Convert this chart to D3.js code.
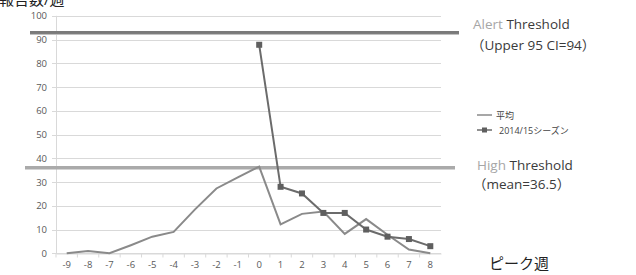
<!DOCTYPE html>
<meta charset="utf-8">
<script src="https://d3js.org/d3.v7.min.js"></script>
<style>
  body { margin: 0; background: #fff; }
  text { font-family: "Open Sans", "Noto Sans CJK JP", sans-serif; }
</style>
<div id="chart"></div>
<script>
// data
var weeks = ["-9","-8","-7","-6","-5","-4","-3","-2","-1","0","1","2","3","4","5","6","7","8"];
var meanValues = [0, 1, 0, 3.4, 7, 9, 18.5, 27.3, 32, 36.5, 12.2, 16.6, 17.6, 8.2, 14.4, 7.8, 1.6, 0];
var seasonWeeks = ["0","1","2","3","4","5","6","7","8"];
var seasonValues = [87.8, 28, 25.2, 17, 17, 10, 7, 6, 3];
var yTicks = [0, 10, 20, 30, 40, 50, 60, 70, 80, 90, 100];
var alertLevel = 93;
var highLevel = 36;

var W = 636, H = 275;
var margin = {top: 15.8, right: 195, bottom: 21.7, left: 56};

var svg = d3.select("#chart").append("svg")
  .attr("width", W)
  .attr("height", H);

var x = d3.scaleBand()
  .domain(weeks)
  .range([margin.left, W - margin.right]);

var y = d3.scaleLinear()
  .domain([0, 100])
  .range([H - margin.bottom, margin.top]);

// grid lines
svg.append("g")
  .selectAll("line")
  .data(yTicks)
  .enter().append("line")
    .attr("x1", margin.left - 4)
    .attr("x2", W - margin.right)
    .attr("y1", function(d) { return Math.round(y(d)) + 0.5; })
    .attr("y2", function(d) { return Math.round(y(d)) + 0.5; })
    .attr("stroke", "#d9d9d9")
    .attr("stroke-width", 1);

// y axis line
svg.append("line")
  .attr("x1", margin.left + 0.5).attr("x2", margin.left + 0.5)
  .attr("y1", y(100)).attr("y2", y(0))
  .attr("stroke", "#d9d9d9");

// y tick labels
svg.append("g")
  .selectAll("text")
  .data(yTicks)
  .enter().append("text")
    .attr("x", 47)
    .attr("y", function(d) { return y(d) + 3.5; })
    .attr("text-anchor", "end")
    .attr("font-size", "9.5px")
    .attr("fill", "#595959")
    .text(function(d) { return d; });

// x axis ticks and labels
var xAxis = svg.append("g")
  .attr("transform", "translate(0," + (Math.round(y(0)) + 0.5) + ")")
  .call(d3.axisBottom(x).tickSize(4).tickSizeOuter(0));
xAxis.select(".domain").attr("stroke", "#d9d9d9");
xAxis.selectAll(".tick line").attr("stroke", "#d9d9d9")
  .attr("transform", "translate(" + (-x.bandwidth() / 2) + ",0)");
xAxis.selectAll(".tick text")
  .attr("font-size", "9.5px")
  .attr("fill", "#595959")
  .attr("dy", "0.95em")
  .attr("y", 5);

// threshold lines
svg.append("line")
  .attr("x1", 30).attr("x2", 459)
  .attr("y1", y(alertLevel)).attr("y2", y(alertLevel))
  .attr("stroke", "#7a7a7a").attr("stroke-width", 3);
svg.append("line")
  .attr("x1", 30).attr("x2", 459)
  .attr("y1", y(alertLevel) + 2).attr("y2", y(alertLevel) + 2)
  .attr("stroke", "#bdbdbd").attr("stroke-width", 1);
svg.append("line")
  .attr("x1", 25).attr("x2", 455)
  .attr("y1", y(highLevel)).attr("y2", y(highLevel))
  .attr("stroke", "#aaaaaa").attr("stroke-width", 3.5);

var cx = function(w) { return x(w) + x.bandwidth() / 2; };

// mean line
var meanLine = d3.line()
  .x(function(d, i) { return cx(weeks[i]); })
  .y(function(d) { return y(d); });
svg.append("path")
  .datum(meanValues)
  .attr("d", meanLine)
  .attr("fill", "none")
  .attr("stroke", "#8a8a8a")
  .attr("stroke-width", 2);

// season line
var seasonLine = d3.line()
  .x(function(d, i) { return cx(seasonWeeks[i]); })
  .y(function(d) { return y(d); });
svg.append("path")
  .datum(seasonValues)
  .attr("d", seasonLine)
  .attr("fill", "none")
  .attr("stroke", "#6b6b6b")
  .attr("stroke-width", 2);
svg.append("g")
  .selectAll("rect")
  .data(seasonValues)
  .enter().append("rect")
    .attr("x", function(d, i) { return cx(seasonWeeks[i]) - 3; })
    .attr("y", function(d) { return y(d) - 3; })
    .attr("width", 6)
    .attr("height", 6)
    .attr("fill", "#5f5f5f");

// legend
var lg = svg.append("g").attr("font-size", "9px").attr("fill", "#444");
lg.append("line").attr("x1", 477).attr("x2", 492).attr("y1", 115).attr("y2", 115)
  .attr("stroke", "#8a8a8a").attr("stroke-width", 1.5);
lg.append("text").attr("x", 496).attr("y", 118.5).text("平均");
lg.append("line").attr("x1", 477).attr("x2", 492).attr("y1", 130).attr("y2", 130)
  .attr("stroke", "#6b6b6b").attr("stroke-width", 1.5);
lg.append("rect").attr("x", 482).attr("y", 127.5).attr("width", 5).attr("height", 5).attr("fill", "#5f5f5f");
lg.append("text").attr("x", 499).attr("y", 133.5).text("2014/15シーズン");

// annotations
var t1 = svg.append("text").attr("x", 473).attr("y", 29).attr("font-size", "13.5px");
t1.append("tspan").attr("fill", "#a6a6a6").text("Alert ");
t1.append("tspan").attr("fill", "#3a3a3a").text("Threshold");
svg.append("text").attr("x", 471).attr("y", 50).attr("font-size", "13.5px")
  .attr("fill", "#3a3a3a").text("（Upper 95 CI=94）");

var t2 = svg.append("text").attr("x", 477).attr("y", 170).attr("font-size", "13.5px");
t2.append("tspan").attr("fill", "#a6a6a6").text("High ");
t2.append("tspan").attr("fill", "#3a3a3a").text("Threshold");
svg.append("text").attr("x", 473).attr("y", 189).attr("font-size", "13.5px")
  .attr("fill", "#3a3a3a").text("（mean=36.5）");

svg.append("text").attr("x", 489).attr("y", 269).attr("font-size", "15px")
  .attr("fill", "#222").text("ピーク週");

svg.append("text").attr("x", -1).attr("y", 5).attr("font-size", "15px")
  .attr("fill", "#222").text("報告数/週");
</script>
